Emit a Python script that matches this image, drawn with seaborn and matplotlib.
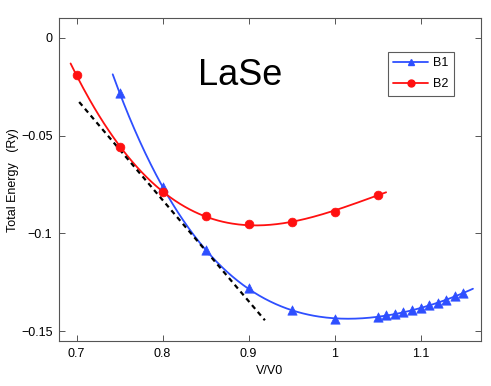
import numpy as np
import matplotlib
matplotlib.use('Agg')
import matplotlib.pyplot as plt
import seaborn as sns
from matplotlib.lines import Line2D

sns.set_style("white")
plt.rcParams['font.family'] = ['Liberation Sans', 'DejaVu Sans']
plt.rcParams['text.color'] = 'black'
plt.rcParams['axes.labelcolor'] = 'black'
plt.rcParams['xtick.color'] = 'black'
plt.rcParams['ytick.color'] = 'black'

# B1 (rocksalt) energies
b1_v = [0.75, 0.80, 0.85, 0.90, 0.95, 1.00, 1.05, 1.06, 1.07, 1.08, 1.09,
        1.10, 1.11, 1.12, 1.13, 1.14, 1.15]
b1_e = [-0.0280, -0.0763, -0.1084, -0.1279, -0.1393, -0.1437, -0.1427, -0.1419,
        -0.1412, -0.1404, -0.1393, -0.1380, -0.1368, -0.1354, -0.1339, -0.1322, -0.1305]

# B2 (CsCl) energies
b2_v = [0.70, 0.75, 0.80, 0.85, 0.90, 0.95, 1.00, 1.05]
b2_e = [-0.0189, -0.0559, -0.0787, -0.0909, -0.0953, -0.0943, -0.0889, -0.0802]

# fitted curve ranges
b1_range = [0.742, 1.161]
b2_range = [0.693, 1.060]

# common tangent
tan_v = [0.703, 0.919]
tan_e = [-0.0328, -0.1444]

blue = '#2E4FFF'
red = '#FF1010'

fig = plt.figure(figsize=(4.91, 3.86), dpi=100)
ax = fig.add_axes([0.121, 0.1166, 0.858, 0.836])

b1_fit = np.polyfit(b1_v, b1_e, 4)
b2_fit = np.polyfit(b2_v, b2_e, 3)
xs1 = np.linspace(*b1_range, 200)
xs2 = np.linspace(*b2_range, 200)

sns.lineplot(x=xs1, y=np.polyval(b1_fit, xs1), ax=ax, color=blue, linewidth=1.3)
sns.lineplot(x=xs2, y=np.polyval(b2_fit, xs2), ax=ax, color=red, linewidth=1.3)
sns.scatterplot(x=b1_v, y=b1_e, ax=ax, color=blue, marker='^', s=45, edgecolor=blue, linewidth=0.5, zorder=3)
sns.scatterplot(x=b2_v, y=b2_e, ax=ax, color=red, marker='o', s=40, edgecolor=red, linewidth=0.5, zorder=3)
ax.plot(tan_v, tan_e, color='black', linestyle=(0, (2.2, 1.8)), linewidth=1.6)

ax.text(0.89, -0.0192, 'LaSe', fontsize=26, ha='center', va='center', color='black')

ax.set_xlim(0.68, 1.17)
ax.set_ylim(-0.155, 0.01)
ax.set_xticks([0.7, 0.8, 0.9, 1.0, 1.1])
ax.set_xticklabels(['0.7', '0.8', '0.9', '1', '1.1'])
ax.set_yticks([0, -0.05, -0.1, -0.15])
ax.set_yticklabels(['0', '\u22120.05', '\u22120.1', '\u22120.15'])
ax.tick_params(direction='in', bottom=True, left=True, top=True, right=True,
               length=4, width=0.7, labelsize=9, color='#555555',
               labelcolor='black', pad=5)
for s in ax.spines.values():
    s.set_color('#555555')
    s.set_linewidth(0.8)

ax.set_xlabel('V/V0', fontsize=9, labelpad=4, color='black')
ax.set_ylabel('Total Energy   (Ry)', fontsize=9, color='black')
ax.yaxis.set_label_coords(-0.097, 0.5)

handles = [Line2D([], [], color=blue, marker='^', markersize=5, linewidth=1.3),
           Line2D([], [], color=red, marker='o', markersize=5, linewidth=1.3)]
leg = ax.legend(handles, ['B1', 'B2'], loc='upper right', bbox_to_anchor=(0.937, 0.896),
                fontsize=9, frameon=True, fancybox=False, handlelength=2.8,
                borderpad=0.45, labelspacing=0.7, handletextpad=0.4, borderaxespad=0)
leg.get_frame().set_edgecolor('#333333')
leg.get_frame().set_linewidth(0.8)

fig.savefig('out.png', dpi=100)
